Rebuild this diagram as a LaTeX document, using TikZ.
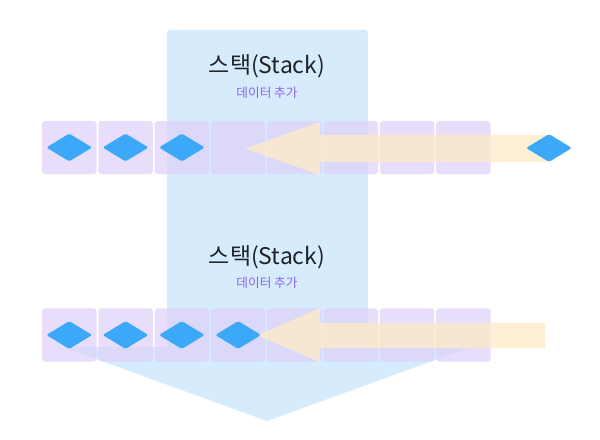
\documentclass[tikz,border=0pt]{standalone}
\usepackage{fontspec}
\setmainfont{Noto Sans CJK KR}
\usetikzlibrary{positioning,shapes.geometric}
\definecolor{stackblue}{HTML}{D6ECFD}
\definecolor{cellpurple}{HTML}{DED0FA}
\definecolor{pushyellow}{HTML}{FCEBC8}
\definecolor{itemblue}{HTML}{3BA9F8}
\definecolor{labelpurple}{HTML}{8D62EC}
\definecolor{titlegray}{HTML}{1F2329}

\begin{document}
\begin{tikzpicture}[x=0.025cm,y=-0.025cm,
      cell/.style={fill=cellpurple,fill opacity=0.7,rounded corners=0.075cm,minimum width=1.3625cm,minimum height=1.325cm,inner sep=0},
      item/.style={diamond,fill=itemblue,minimum width=1.15cm,minimum height=0.7cm,inner sep=0,rounded corners=0.04cm},
      title/.style={font=\fontsize{16.3}{19}\selectfont,text=titlegray},
      subtitle/.style={font=\fontsize{9}{11}\selectfont,text=labelpurple}]
    \useasboundingbox (0,0) rectangle (600,440);
    % stack body with its downward head
    \fill[stackblue] (167,347) [rounded corners=0.075cm]-- (167,30) -- (368,30) [sharp corners]-- (368,347)
      -- (471,347) -- (267,421) -- (63,347) -- cycle;

    \node[title] (title1) at (267,66) {스택(Stack)};
    \node[subtitle] (sub1) at (267,93) {데이터 추가};
    \node[title] (title2) at (267,257) {스택(Stack)};
    \node[subtitle] (sub2) at (267,283) {데이터 추가};

    \foreach \i in {0,...,7}{
      \node[cell] (a\i) at (69.25+56.3*\i,147.5) {};
      \node[cell] (b\i) at (69.25+56.3*\i,335) {};
    }

    % push arrows
    \fill[pushyellow,fill opacity=0.8] (547,135) -- (320,135) -- (320,122) -- (245,148.5)
      -- (320,175) -- (320,162) -- (547,162) -- cycle;
    \fill[pushyellow,fill opacity=0.8] (545,323) -- (320,323) -- (320,308) -- (257,335.5)
      -- (320,362) -- (320,348) -- (545,348) -- cycle;

    \foreach \i in {0,1,2}
      \node[item] (p\i) at (a\i) {};
    \foreach \i in {0,...,3}
      \node[item] (q\i) at (b\i) {};
    \node[item] (new) at (549,148) {};
  \end{tikzpicture}
\end{document}
